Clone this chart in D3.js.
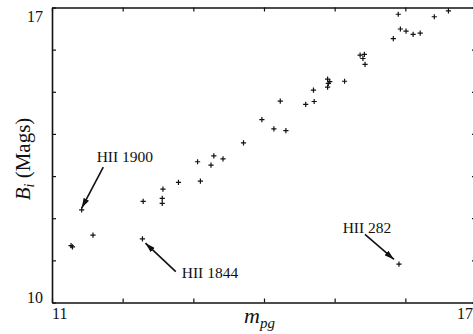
<!DOCTYPE html>
<html>
<head>
<meta charset="utf-8">
<script src="https://cdn.jsdelivr.net/npm/d3@7"></script>
<style>
  body { margin: 0; background: #fff; }
  svg { display: block; }
  text { font-family: "Liberation Serif", "DejaVu Serif", serif; fill: #111; }
</style>
</head>
<body>
<div id="chart"></div>
<script>
// star magnitudes
var mpg = [11.27, 11.29, 11.58, 11.42, 12.29, 12.28, 12.56, 12.56, 12.57, 12.79,
           13.10, 13.06, 13.25, 13.29, 13.42, 13.71, 13.97, 14.14, 14.31, 14.23,
           14.59, 14.71, 14.70, 14.90, 14.93, 14.91, 14.90, 15.14, 15.36, 15.42,
           15.40, 15.43, 15.83, 15.93, 16.01, 16.11, 16.21, 15.90, 16.41, 16.61,
           15.91];
var bi = [11.35, 11.32, 11.60, 12.20, 12.40, 11.51, 12.47, 12.35, 12.69, 12.85,
          12.88, 13.34, 13.26, 13.48, 13.41, 13.79, 14.34, 14.12, 14.08, 14.78,
          14.70, 14.77, 15.04, 15.30, 15.24, 15.20, 15.11, 15.25, 15.87, 15.89,
          15.79, 15.65, 16.26, 16.49, 16.44, 16.36, 16.39, 16.84, 16.78, 16.92,
          10.91];
var xTicks = [11, 12, 13, 14, 15, 16, 17];
var yTicks = [10, 11, 12, 13, 14, 15, 16, 17];
// labelled stars: name and index into the arrays above
var starNames = ["HII 1900", "HII 1844", "HII 282"];
var starIndex = [3, 5, 40];

function makePlot() {
    var svgWidth = 473;
    var svgHeight = 334;
    var margin = { top: 7.5, right: -3, bottom: 31.5, left: 52 };
    var w = svgWidth - margin.left - margin.right;
    var h = svgHeight - margin.top - margin.bottom;

    var svg = d3.select("#chart").append("svg")
        .attr("width", svgWidth)
        .attr("height", svgHeight);
    var g = svg.append("g")
        .attr("transform", `translate(${margin.left}, ${margin.top})`);

    var x = d3.scaleLinear().domain([11, 17]).range([0, w]);
    var y = d3.scaleLinear().domain([10, 17]).range([h, 0]);

    // inward ticks on all four sides
    var axes = [
        [d3.axisBottom(x).tickValues(xTicks), `translate(0,${h})`],
        [d3.axisTop(x).tickValues(xTicks), "translate(0,0)"],
        [d3.axisLeft(y).tickValues(yTicks), "translate(0,0)"],
        [d3.axisRight(y).tickValues(yTicks), `translate(${w},0)`]
    ];
    axes.forEach(function(a) {
        var ax = g.append("g")
            .attr("transform", a[1])
            .call(a[0].tickSizeInner(-4).tickSizeOuter(0).tickFormat(""));
        ax.select(".domain").attr("stroke", "#111").attr("stroke-width", 1.6);
        ax.selectAll(".tick line").attr("stroke", "#111").attr("stroke-width", 1.2);
    });

    // end labels only
    g.append("text").attr("x", x(11)).attr("y", h + 16)
        .attr("font-size", 16).attr("text-anchor", "start").text("11");
    g.append("text").attr("x", x(17) - 3).attr("y", h + 16)
        .attr("font-size", 16).attr("text-anchor", "end").text("17");
    g.append("text").attr("x", -9).attr("y", y(17) + 14)
        .attr("font-size", 16).attr("text-anchor", "end").text("17");
    g.append("text").attr("x", -9).attr("y", y(10))
        .attr("font-size", 16).attr("text-anchor", "end").text("10");

    // axis titles
    var xt = g.append("text")
        .attr("x", 192).attr("y", h + 20)
        .attr("font-size", 22).attr("font-style", "italic");
    xt.append("tspan").text("m");
    xt.append("tspan").attr("font-size", 15).attr("dy", 5).text("pg");

    var yt = svg.append("text")
        .attr("transform", "translate(30,159) rotate(-90)")
        .attr("text-anchor", "middle")
        .attr("font-size", 21);
    yt.append("tspan").attr("font-style", "italic").text("B");
    yt.append("tspan").attr("font-style", "italic").attr("font-size", 14).attr("dy", 4).text("i");
    yt.append("tspan").attr("dy", -4).text(" (Mags)");

    // points
    var pts = mpg.map(function(v, i) { return { x: v, y: bi[i] }; });
    g.selectAll(".pt").data(pts).enter().append("path")
        .attr("class", "pt")
        .attr("transform", d => `translate(${x(d.x)},${y(d.y)})`)
        .attr("d", "M-2.6,0H2.6M0,-2.6V2.6")
        .attr("stroke", "#111")
        .attr("stroke-width", 1.2);

    // arrowhead
    svg.append("defs").append("marker")
        .attr("id", "head")
        .attr("viewBox", "0 0 10 6")
        .attr("refX", 10).attr("refY", 3)
        .attr("markerWidth", 10).attr("markerHeight", 6)
        .attr("markerUnits", "userSpaceOnUse")
        .attr("orient", "auto")
        .append("path").attr("d", "M0,0L10,3L0,6Z").attr("fill", "#111");

    // annotation offsets in pixels from the star: tail, tip, text
    var offs = [
        { tail: [21.6, -42.7], tip: [0, -1.7], txt: [15, -48] },
        { tail: [33.3, 32.7], tip: [3, 4.3], txt: [39.3, 39] },
        { tail: [-34, -29.7], tip: [-5, -4.7], txt: [-56.3, -31] }
    ];
    starNames.forEach(function(name, k) {
        var d = pts[starIndex[k]];
        var px = x(d.x), py = y(d.y), o = offs[k];
        g.append("line")
            .attr("x1", px + o.tail[0]).attr("y1", py + o.tail[1])
            .attr("x2", px + o.tip[0]).attr("y2", py + o.tip[1])
            .attr("stroke", "#111").attr("stroke-width", 1.6)
            .attr("marker-end", "url(#head)");
        g.append("text")
            .attr("x", px + o.txt[0]).attr("y", py + o.txt[1])
            .attr("font-size", 15.5)
            .text(name);
    });
}

makePlot();
</script>
</body>
</html>
